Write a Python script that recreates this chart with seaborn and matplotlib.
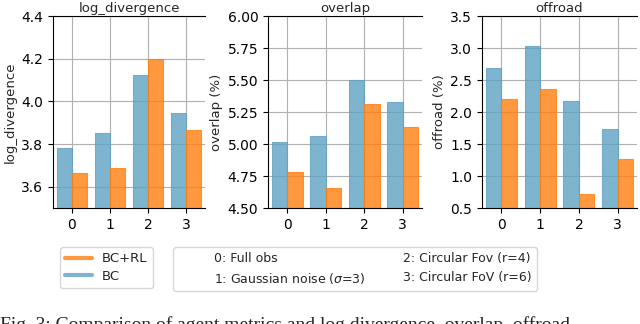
import matplotlib

matplotlib.use("Agg")
import matplotlib.pyplot as plt
import pandas as pd
import seaborn as sns
from matplotlib.lines import Line2D

# values
settings = ["0", "1", "2", "3"]
methods = ["BC", "BC+RL"]
log_div_bc = [3.783, 3.850, 4.125, 3.947]
log_div_rl = [3.664, 3.686, 4.199, 3.866]
overlap_bc = [5.018, 5.065, 5.500, 5.326]
overlap_rl = [4.779, 4.659, 5.310, 5.133]
offroad_bc = [2.683, 3.036, 2.177, 1.734]
offroad_rl = [2.198, 2.354, 0.719, 1.261]

titles = ["log_divergence", "overlap", "offroad"]
ylabels = ["log_divergence", "overlap (%)", "offroad (%)"]
ylims = [(3.5, 4.4), (4.5, 6.0), (0.5, 3.5)]
setting_names = ["0: Full obs", "1: Gaussian noise ($\\sigma$=3)",
                 "2: Circular Fov (r=4)", "3: Circular FoV (r=6)"]

BLUE = "#5fa1c3"
ORANGE = "#ff7f0e"

sns.set_style("ticks")
plt.rcParams["font.family"] = ["DejaVu Sans"]
plt.rcParams["font.size"] = 9.5

fig = plt.figure(figsize=(6.4, 3.24), dpi=100)
W, H = 640, 324
boxes = [(53, 205), (268, 422), (482, 637)]
top, bottom = 16, 208

series = [(log_div_bc, log_div_rl), (overlap_bc, overlap_rl), (offroad_bc, offroad_rl)]
for i, ((bc, rl), (x0, x1)) in enumerate(zip(series, boxes)):
    ax = fig.add_axes([x0 / W, (H - bottom) / H, (x1 - x0) / W, (bottom - top) / H])
    df = pd.DataFrame({
        "setting": settings * 2,
        "value": bc + rl,
        "method": [methods[0]] * 4 + [methods[1]] * 4,
    })
    sns.barplot(data=df, x="setting", y="value", hue="method", hue_order=methods,
                palette=[BLUE, ORANGE], saturation=1, alpha=0.8, width=0.8,
                edgecolor=None, linewidth=0.8, legend=False, ax=ax)
    for p in ax.patches:
        p.set_edgecolor(p.get_facecolor())
    ax.set_ylim(*ylims[i])
    ax.set_xlim(-0.5, 3.5)
    ax.grid(True, color="#b0b0b0", linewidth=0.8)
    ax.set_axisbelow(True)
    ax.spines["right"].set_visible(False)
    for s in ["left", "bottom", "top"]:
        ax.spines[s].set_color("black")
        ax.spines[s].set_linewidth(0.8)
    ax.tick_params(colors="black", labelsize=10, length=3.5, width=0.8)
    ax.set_title(titles[i], fontsize=9.5, pad=3)
    ax.set_ylabel(ylabels[i], fontsize=9.5, labelpad=3)
    ax.set_xlabel("")

# method legend
handles = [Line2D([], [], color=ORANGE, alpha=0.8, lw=3),
           Line2D([], [], color=BLUE, alpha=0.8, lw=3)]
fig.legend(handles, ["BC+RL", "BC"], loc="upper left",
           bbox_to_anchor=(60 / W, (H - 247) / H), fontsize=9.5,
           borderaxespad=0, labelspacing=0.35)

# setting legend (text only)
blank = [Line2D([], [], color="none")] * 4
fig.legend(blank, setting_names, loc="upper left", ncol=2,
           bbox_to_anchor=(173 / W, (H - 247) / H), fontsize=9,
           borderaxespad=0, labelspacing=0.45, columnspacing=0.1,
           handlelength=2.1)

# caption from the paper, cut by the bottom edge as in the reference
fig.text(0.0, 0.023, "Fig. 3: Comparison of agent metrics and log divergence, overlap, offroad",
         family="Liberation Serif", fontsize=14, va="top", ha="left")

fig.savefig("out.png", dpi=100)
